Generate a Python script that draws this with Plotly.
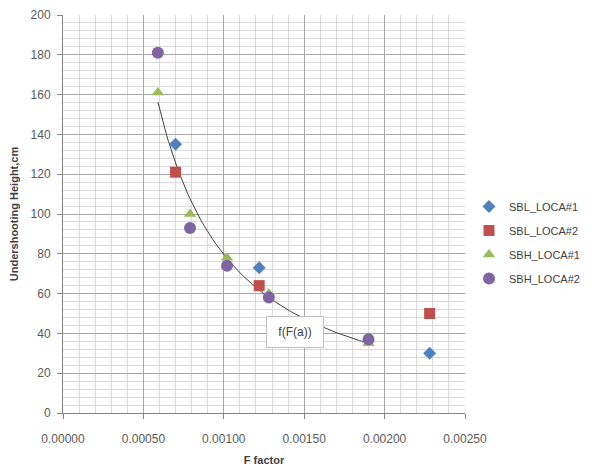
import numpy as np
import plotly.graph_objects as go

# Data
sbl1_x = [0.00070, 0.00122, 0.00228]
sbl1_y = [135, 73, 30]
sbl2_x = [0.00070, 0.00122, 0.00228]
sbl2_y = [121, 64, 50]
sbh1_x = [0.00059, 0.00079, 0.00102, 0.00128, 0.00190]
sbh1_y = [161, 100, 78, 60, 35]
sbh2_x = [0.00059, 0.00079, 0.00102, 0.00128, 0.00190]
sbh2_y = [181, 93, 74, 58, 37]

x_ticks = [0.0, 0.0005, 0.0010, 0.0015, 0.0020, 0.0025]
y_ticks = [0, 20, 40, 60, 80, 100, 120, 140, 160, 180, 200]

# Power-law trend line fitted to the SBH data (log-log least squares)
fx = np.array(sbh1_x + sbh2_x)
fy = np.array(sbh1_y + sbh2_y)
b, lna = np.polyfit(np.log(fx), np.log(fy), 1)
cx = np.linspace(fx.min(), fx.max(), 120)
cy = np.exp(lna) * cx ** b

FONT = "Liberation Sans"

fig = go.Figure()
fig.add_trace(go.Scatter(x=cx, y=cy, mode="lines", line=dict(color="#404040", width=1),
                         showlegend=False, hoverinfo="skip"))
fig.add_trace(go.Scatter(x=sbl1_x, y=sbl1_y, mode="markers", name="SBL_LOCA#1", legendgroup="a",
                         marker=dict(symbol="diamond", size=10, color="#4F81BD")))
fig.add_trace(go.Scatter(x=sbl2_x, y=sbl2_y, mode="markers", name="SBL_LOCA#2", legendgroup="b",
                         marker=dict(symbol="square", size=11, color="#C0504D")))
fig.add_trace(go.Scatter(x=sbh1_x, y=sbh1_y, mode="markers", name="SBH_LOCA#1", legendgroup="c",
                         marker=dict(symbol="triangle-up", size=11, color="#9BBB59")))
fig.add_trace(go.Scatter(x=sbh2_x, y=sbh2_y, mode="markers", name="SBH_LOCA#2", legendgroup="d",
                         marker=dict(symbol="circle", size=12, color="#8064A2")))

fig.add_annotation(x=0.001444, y=40.7, text="f(F(a))", showarrow=False,
                   font=dict(family=FONT, size=12, color="#404040"),
                   bgcolor="white", bordercolor="#bfbfbf", borderwidth=1,
                   width=54, height=28, borderpad=1)

fig.update_layout(
    width=592, height=466,
    margin=dict(l=55, r=135, t=7, b=61),
    paper_bgcolor="white", plot_bgcolor="white",
    font=dict(family=FONT, size=12, color="#595959"),
    legend=dict(x=(461 - 55) / 402, y=1 - (184 - 7) / 398,
                xanchor="left", yanchor="top",
                font=dict(family=FONT, size=11, color="#404040"),
                itemsizing="trace", tracegroupgap=5, itemwidth=30),
    xaxis=dict(range=[0, 0.0025], tickvals=x_ticks,
               ticktext=[f"{v:.5f}" for v in x_ticks],
               showgrid=True, gridcolor="#a6a6a6", gridwidth=1,
               minor=dict(dtick=0.0001, showgrid=True, gridcolor="#d9d9d9", gridwidth=1),
               showline=True, linecolor="#868686", linewidth=1,
               ticks="outside", ticklen=5, tickcolor="#868686",
               zeroline=False, ticklabelstandoff=10, automargin=False,
               title=dict(text="<b>F factor</b>", font=dict(family=FONT, size=11, color="#404040"),
                          standoff=10)),
    yaxis=dict(range=[0, 200], tickvals=y_ticks,
               showgrid=True, gridcolor="#a6a6a6", gridwidth=1,
               minor=dict(dtick=4, showgrid=True, gridcolor="#d9d9d9", gridwidth=1),
               showline=True, linecolor="#868686", linewidth=1,
               ticks="outside", ticklen=5, tickcolor="#868686",
               zeroline=False, ticklabelstandoff=4, automargin=False,
               title=dict(text="<b>Undershooting Height,cm</b>",
                          font=dict(family=FONT, size=11, color="#404040"), standoff=16)),
)

fig.write_html("out.html")
